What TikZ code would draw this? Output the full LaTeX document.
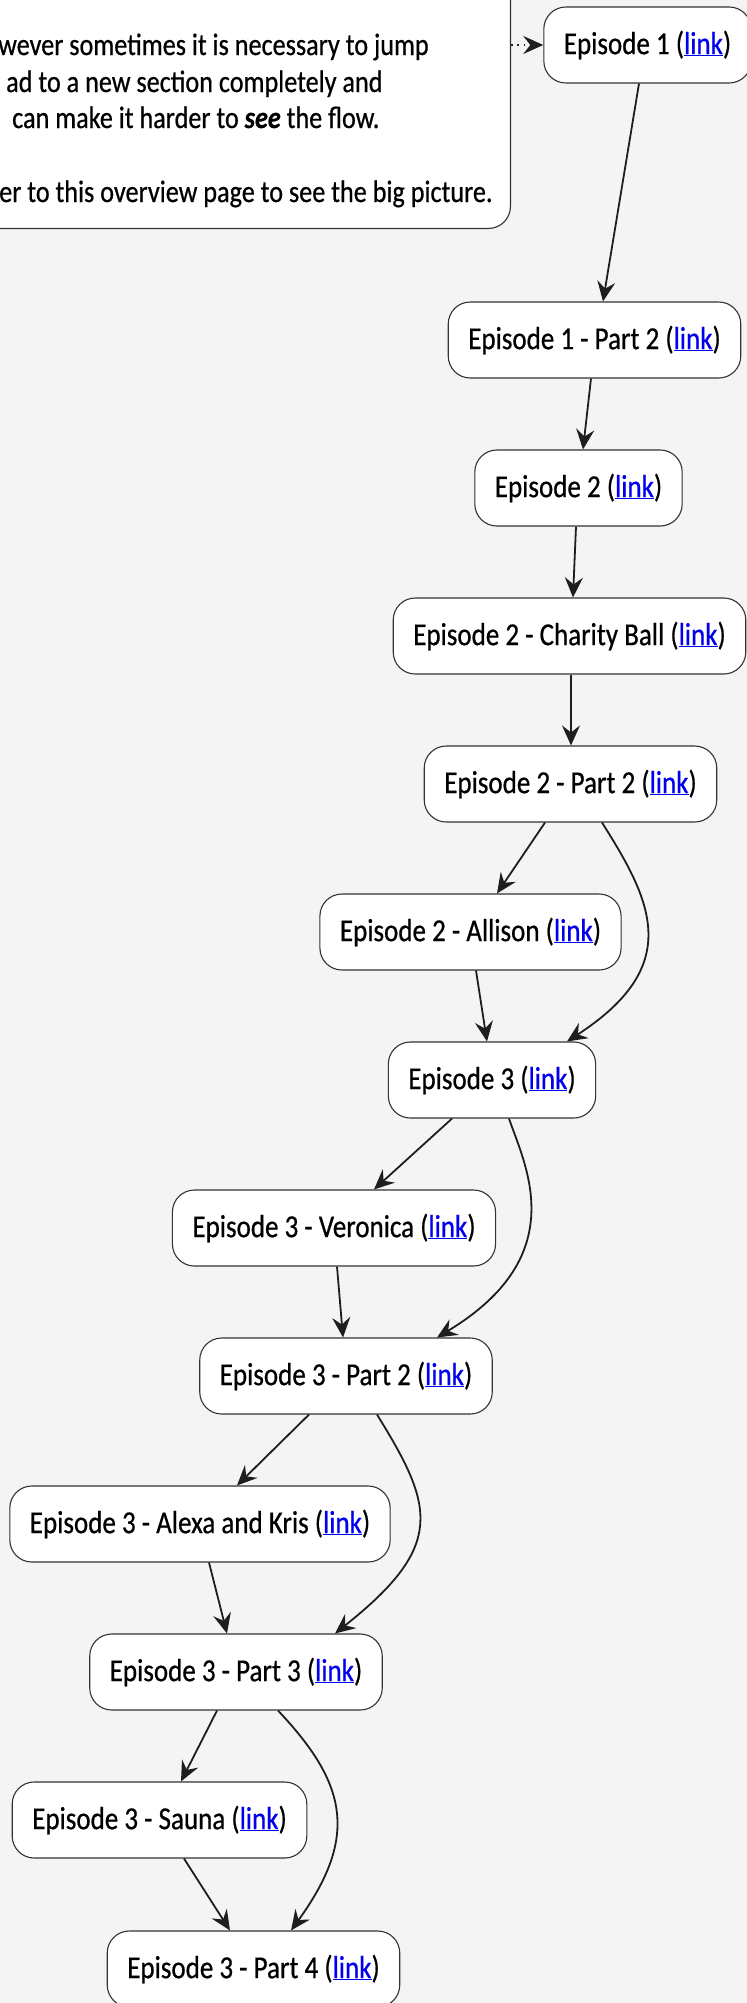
\documentclass[tikz,border=0pt]{standalone}
\usepackage{fontspec}
\usetikzlibrary{arrows.meta}
\newfontfamily\nf[FakeStretch=0.845,FakeBold=0.6]{Carlito}
\definecolor{bg}{HTML}{F4F4F4}
\definecolor{linkblue}{HTML}{0000EE}
\definecolor{edgec}{HTML}{1E1E1E}
\definecolor{borderc}{HTML}{333333}
\newcommand{\lnk}{\textcolor{linkblue}{\underline{link}}}
\begin{document}
\begin{tikzpicture}[x=1pt,y=-1pt,
  ep/.style={draw=borderc, line width=1.1pt, fill=white, rounded corners=22pt,
    minimum height=76pt, inner xsep=20pt, font=\nf\fontsize{32}{37}\selectfont, text=black},
  notebox/.style={draw=borderc, line width=1.1pt, fill=white, rounded corners=22pt, inner sep=0pt},
  notetext/.style={font=\nf\fontsize{31}{37}\selectfont, text=black, inner sep=0pt, anchor=base west},
  arr/.style={draw=edgec, line width=1.8pt, -{Stealth[length=20pt,width=18pt,inset=7pt]}},
  dotarr/.style={draw=edgec, line width=1.8pt, dash pattern=on 1.8pt off 4.5pt,
    -{Stealth[length=20pt,width=18pt,inset=7pt]}},
]
\fill[bg] (0,0) rectangle (747,2003);
\useasboundingbox (0,0) rectangle (747,2003);
\clip (0,0) rectangle (747,2003);

% note box
\node[notebox, minimum width=560pt, minimum height=270pt, anchor=south east] (note) at (511,229) {};
\node[notetext] (t1) at (-2,55) {wever sometimes it is necessary to jump};
\node[notetext] (t2) at (6,92) {ad to a new section completely and};
\node[notetext] (t3) at (12,128) {can make it harder to \textbf{\textit{see}} the flow.};
\node[notetext] (t4) at (-1,202) {er to this overview page to see the big picture.};

% episode nodes
\node[ep] (e1)   at (647.5,45)  {Episode 1 (\lnk)};
\node[ep] (e1p2) at (594.5,340) {Episode 1 - Part 2 (\lnk)};
\node[ep] (e2)   at (578.5,488) {Episode 2 (\lnk)};
\node[ep] (e2cb) at (569.5,636) {Episode 2 - Charity Ball (\lnk)};
\node[ep] (e2p2) at (570.5,784) {Episode 2 - Part 2 (\lnk)};
\node[ep] (e2al) at (470.5,932) {Episode 2 - Allison (\lnk)};
\node[ep] (e3)   at (492,1080)  {Episode 3 (\lnk)};
\node[ep] (e3v)  at (334,1228)  {Episode 3 - Veronica (\lnk)};
\node[ep] (e3p2) at (346,1376)  {Episode 3 - Part 2 (\lnk)};
\node[ep] (e3ak) at (200,1524)  {Episode 3 - Alexa and Kris (\lnk)};
\node[ep] (e3p3) at (236,1672)  {Episode 3 - Part 3 (\lnk)};
\node[ep] (e3s)  at (159.5,1820) {Episode 3 - Sauna (\lnk)};
\node[ep] (e3p4) at (253.5,1969) {Episode 3 - Part 4 (\lnk)};

% connectors
\draw[dotarr] (note.east |- e1.west) -- (e1.west);
\draw[arr] ([xshift=-8.5pt]e1.south) -- ([xshift=8.5pt]e1p2.north);
\draw[arr] ([xshift=-3.5pt]e1p2.south) -- ([xshift=4.5pt]e2.north);
\draw[arr] ([xshift=-2.5pt]e2.south) -- ([xshift=3.5pt]e2cb.north);
\draw[arr] ([xshift=1.5pt]e2cb.south) -- ([xshift=0.5pt]e2p2.north);
\draw[arr] ([xshift=-25.5pt]e2p2.south) -- ([xshift=26.5pt]e2al.north);
\draw[arr] ([xshift=31.5pt]e2p2.south) .. controls +(50,79) and +(117,-76) .. ([xshift=75pt]e3.north);
\draw[arr] ([xshift=5.5pt]e2al.south) -- ([xshift=-5pt]e3.north);
\draw[arr] ([xshift=-40pt]e3.south) -- ([xshift=40pt]e3v.north);
\draw[arr] ([xshift=17pt]e3.south) .. controls +(16,47) and +(136,-82) .. ([xshift=91pt]e3p2.north);
\draw[arr] ([xshift=3pt]e3v.south) -- ([xshift=-3pt]e3p2.north);
\draw[arr] ([xshift=-37pt]e3p2.south) -- ([xshift=37pt]e3ak.north);
\draw[arr] ([xshift=31pt]e3p2.south) .. controls +(57,92) and +(111,-88) .. ([xshift=99pt]e3p3.north);
\draw[arr] ([xshift=9pt]e3ak.south) -- ([xshift=-9pt]e3p3.north);
\draw[arr] ([xshift=-19pt]e3p3.south) -- ([xshift=21.5pt]e3s.north);
\draw[arr] ([xshift=42pt]e3p3.south) .. controls +(69,73) and +(68,-94) .. ([xshift=37.5pt]e3p4.north);
\draw[arr] ([xshift=24.5pt]e3s.south) -- ([xshift=-23.5pt]e3p4.north);
\end{tikzpicture}
\end{document}
